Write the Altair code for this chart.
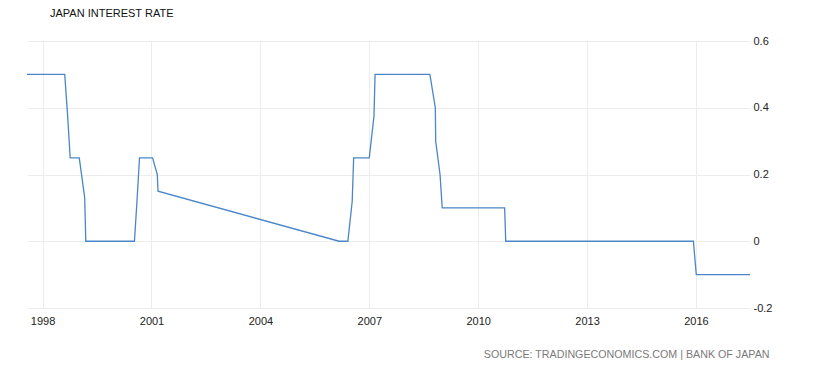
import altair as alt
import pandas as pd

years = [1997.57, 1998.61, 1998.69, 1998.76, 1999.01, 1999.16, 1999.19,
         2000.53, 2000.60, 2000.67, 2001.03, 2001.16, 2001.18, 2006.17,
         2006.41, 2006.53, 2006.57, 2007.00, 2007.13, 2007.16, 2008.67,
         2008.82, 2008.83, 2008.95, 2009.01, 2010.73, 2010.76, 2015.93,
         2016.01, 2017.49]
rates = [0.5, 0.5, 0.375, 0.25, 0.25, 0.13, 0.0,
         0.0, 0.12, 0.25, 0.25, 0.2, 0.15, 0.0,
         0.0, 0.12, 0.25, 0.25, 0.375, 0.5, 0.5,
         0.4, 0.3, 0.2, 0.1, 0.1, 0.0, 0.0,
         -0.1, -0.1]
x_ticks = [1998, 2001, 2004, 2007, 2010, 2013, 2016]
y_ticks = [-0.2, 0, 0.2, 0.4, 0.6]

df = pd.DataFrame({"year": years, "rate": rates})

FONT = "Liberation Sans"

chart = alt.Chart(df).mark_line(color="#4a86c8", strokeWidth=1.3).encode(
    x=alt.X("year:Q",
            scale=alt.Scale(domain=[1997.57, 2017.49], nice=False, zero=False),
            axis=alt.Axis(values=x_ticks, labelExpr="'' + datum.value",
                          title="SOURCE: TRADINGECONOMICS.COM | BANK OF JAPAN",
                          titleFont=FONT, titleFontSize=10.7, titleFontWeight="normal",
                          titleColor="#7a7a7a", titleAnchor="end", titleAlign="right",
                          titleBaseline="alphabetic", titleX=742, titleY=49,
                          labelFont=FONT, labelFontSize=11, labelColor="#222222",
                          labelPadding=7, ticks=False, domain=False,
                          grid=True, gridColor="#ececec", gridWidth=1)),
    y=alt.Y("rate:Q",
            scale=alt.Scale(domain=[-0.2, 0.6], nice=False, zero=False),
            axis=alt.Axis(orient="right", values=y_ticks, labelExpr="'' + datum.value",
                          title=None, labelFont=FONT, labelFontSize=11,
                          labelColor="#222222", labelPadding=3, ticks=False,
                          domain=False, grid=True, gridColor="#ececec", gridWidth=1)),
).properties(
    width=723,
    height=267,
    title=alt.TitleParams("JAPAN INTEREST RATE", anchor="start", dx=23, offset=16,
                          frame="group", font=FONT,
                          fontSize=11, fontWeight="normal", color="#111111"),
    padding={"left": 19, "top": 33, "right": 74, "bottom": 59},
    autosize=alt.AutoSizeParams(type="none"),
).configure_view(stroke=None)

chart.save("out.html", embed_options={"renderer": "svg", "actions": False})
